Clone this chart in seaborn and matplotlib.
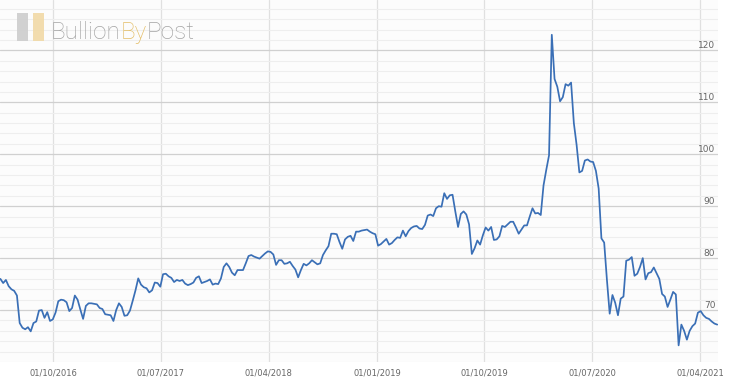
import numpy as np
import pandas as pd
import matplotlib
matplotlib.use("Agg")
import matplotlib.pyplot as plt
import seaborn as sns
from matplotlib.patches import Rectangle

# ---------------- data (gold/silver ratio, weekly readings) ----------------
start_date = "2016-05-20"
ratio = [
    76.0, 75.2, 75.8, 74.6, 74.0, 73.7, 72.8, 67.5, 66.6, 66.3,
    66.7, 65.9, 67.5, 67.8, 69.9, 70.0, 68.5, 69.6, 67.9, 68.2,
    69.5, 71.7, 72.0, 71.9, 71.5, 69.8, 70.4, 72.8, 72.0, 70.1,
    68.3, 70.8, 71.3, 71.3, 71.2, 71.1, 70.4, 70.2, 69.2, 69.1,
    69.0, 67.9, 70.0, 71.3, 70.6, 68.9, 69.0, 69.9,
    71.8, 73.8, 76.1, 74.9, 74.4, 74.2, 73.4, 73.8, 75.3, 75.2,
    74.5, 76.9, 77.0, 76.5, 76.2, 75.4, 75.8, 75.6, 75.8, 75.1,
    74.8, 75.0, 75.3, 76.2, 76.5, 75.2, 75.4, 75.6, 75.9, 74.9,
    75.1, 75.0, 76.1, 78.3, 79.0, 78.3, 77.2, 76.7, 77.7, 77.7,
    77.7, 79.0, 80.4, 80.6,
    80.3, 80.1, 79.9, 80.4, 80.9, 81.3, 81.2, 80.7, 78.7, 79.6,
    79.6, 78.9, 79.0, 79.3, 78.5, 77.8, 76.3, 77.7, 78.9, 78.6,
    79.0, 79.6, 79.2, 78.8, 79.0, 80.6, 81.5, 82.3, 84.7, 84.7,
    84.6, 83.1, 81.8, 83.6, 84.1, 84.3, 83.3, 85.1, 85.1, 85.3,
    85.4, 85.5, 85.1,
    84.8, 84.6, 82.4, 82.7, 83.2, 83.7, 82.6, 82.9, 83.5, 84.0,
    83.9, 85.3, 84.2, 85.2, 85.8, 86.1, 86.2, 85.7, 85.6, 86.4,
    88.2, 88.4, 88.1, 89.6, 90.0, 89.9, 92.5, 91.4, 92.1, 92.2,
    89.0, 86.0, 88.5, 89.0, 88.4, 86.5, 80.8, 81.9, 83.4, 82.6,
    84.4, 85.9, 85.3, 86.0,
    83.5, 83.6, 84.2, 86.2, 86.0, 86.5, 87.0, 87.0, 85.9, 84.7,
    85.5, 86.3, 86.3, 88.0, 89.6, 88.6, 88.7, 88.3, 94.0, 97.0,
    99.8, 123.0, 114.5, 113.0, 110.2, 111.0, 113.5, 113.2, 113.8,
    106.0, 101.8, 96.5, 96.8, 98.8, 99.0, 98.6, 98.5, 96.8, 93.4,
    83.8, 83.0, 75.8, 69.3, 72.9, 71.4, 69.0, 72.2, 72.6, 79.5,
    79.7, 80.2, 76.6, 77.0, 78.3, 80.0, 75.9, 77.1, 77.3,
    78.2, 77.1, 76.0, 73.1, 72.6, 70.6, 72.0, 73.5, 73.0, 63.2,
    67.2, 66.0, 64.3, 66.0, 66.9, 67.4, 69.5, 69.8, 69.0, 68.5,
    68.3, 67.8, 67.4, 67.2,
]
tick_dates = ["2016-10-01", "2017-07-01", "2018-04-01", "2019-01-01",
              "2019-10-01", "2020-07-01", "2021-04-01"]
tick_labels = ["01/10/2016", "01/07/2017", "01/04/2018", "01/01/2019",
               "01/10/2019", "01/07/2020", "01/04/2021"]
y_major = [70, 80, 90, 100, 110, 120]
y_minor = list(range(60, 130, 2))
x_range = ["2016-05-19", "2021-05-16"]
y_range = [60, 129.7]

# ---------------- figure ----------------
sns.set_theme(style="white")
plt.rcParams["font.family"] = ["DejaVu Sans"]

dates = pd.date_range(start_date, periods=len(ratio), freq="7D")
df = pd.DataFrame({"date": dates, "ratio": ratio})

fig = plt.figure(figsize=(7.3, 3.89), dpi=100, facecolor="white")
ax = fig.add_axes([0, 27 / 389, 718 / 730, 362 / 389])
ax.set_facecolor("#fcfcfc")
ax.set_axisbelow(True)

sns.lineplot(data=df, x="date", y="ratio", ax=ax, color="#3a6fb6",
             linewidth=1.25)

ax.set_xlim(pd.Timestamp(x_range[0]), pd.Timestamp(x_range[1]))
ax.set_ylim(*y_range)
ax.set_yticks(y_major)
ax.set_yticks(y_minor, minor=True)
ax.set_xticks(pd.to_datetime(tick_dates))
ax.set_xticklabels(tick_labels)
ax.set_xlabel("")
ax.set_ylabel("")

ax.grid(axis="y", which="major", color="#d0d0d0", linewidth=0.9)
ax.grid(axis="y", which="minor", color="#eeeeee", linewidth=0.8)
ax.grid(axis="x", which="major", color="#e0e0e0", linewidth=0.9)
ax.tick_params(axis="x", length=0, pad=5, labelsize=6, labelcolor="#666666")
ax.tick_params(axis="y", which="both", length=0, labelleft=False,
               labelright=False)
for s in ax.spines.values():
    s.set_visible(False)

for v in y_major:
    ax.annotate(str(v), xy=(1, v), xycoords=("axes fraction", "data"),
                xytext=(-2, 1.5), textcoords="offset points", ha="right",
                va="baseline", fontsize=6.5, color="#666666")

# ---------------- logo watermark ----------------
fig.patches.append(Rectangle((17 / 730, 1 - 41 / 389), 11 / 730, 28 / 389,
                             transform=fig.transFigure, facecolor="#cdcdcd",
                             edgecolor="none", alpha=0.9, zorder=5))
fig.patches.append(Rectangle((33 / 730, 1 - 41 / 389), 11 / 730, 28 / 389,
                             transform=fig.transFigure, facecolor="#f1d9a6",
                             edgecolor="none", alpha=0.9, zorder=5))
logo_font = ["Roboto", "DejaVu Sans"]
logo_size = 17.5
t1 = fig.text(51 / 730, 1 - 39 / 389, "Bullion", fontsize=logo_size,
              color="#a4a4a4", family=logo_font, fontweight="light",
              va="baseline", zorder=6)
t2 = ax.annotate("By", xy=(1, 0), xycoords=t1, ha="left", va="bottom",
                 fontsize=logo_size, color="#e3bd66", family=logo_font,
                 fontweight="light", annotation_clip=False, zorder=6)
t3 = ax.annotate("Post", xy=(1, 0), xycoords=t2, ha="left", va="bottom",
                 fontsize=logo_size, color="#a4a4a4", family=logo_font,
                 fontweight="light", annotation_clip=False, zorder=6)

fig.savefig("out.png", dpi=100, facecolor="white")
